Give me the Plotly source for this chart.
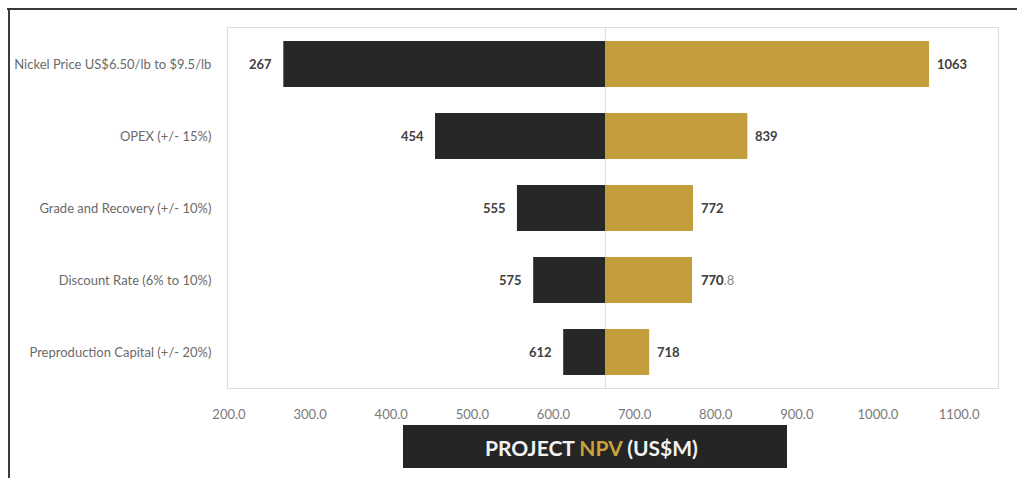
import plotly.graph_objects as go

# Tornado chart: sensitivity of project NPV (US$M) to key inputs
categories = [
    "Nickel Price US$6.50/lb to $9.5/lb",
    "OPEX (+/- 15%)",
    "Grade and Recovery (+/- 10%)",
    "Discount Rate (6% to 10%)",
    "Preproduction Capital (+/- 20%)",
]
low_npv = [267, 454, 555, 575, 612]
high_npv = [1063, 839, 772, 770.8, 718]
low_labels = ["267", "454", "555", "575", "612"]
high_labels = ["1063", "839", "772", "770.8", "718"]
base_npv = 664
tick_values = [200, 300, 400, 500, 600, 700, 800, 900, 1000, 1100]

DARK = "#272727"
GOLD = "#C39C3B"
LABEL_FONT = "Lato"

fig = go.Figure()

fig.add_trace(go.Bar(
    y=categories,
    x=[base_npv - v for v in low_npv],
    base=low_npv,
    orientation="h",
    marker=dict(color=DARK, line=dict(width=0)),
    hoverinfo="skip",
    name="Downside",
))
fig.add_trace(go.Bar(
    y=categories,
    x=[v - base_npv for v in high_npv],
    base=[base_npv] * len(high_npv),
    orientation="h",
    marker=dict(color=GOLD, line=dict(width=0)),
    hoverinfo="skip",
    name="Upside",
))

annotations = []
for cat, v, t in zip(categories, low_npv, low_labels):
    annotations.append(dict(
        x=v, y=cat, xref="x", yref="y", text=f"<b>{t}</b>",
        xanchor="right", xshift=-9, showarrow=False,
        font=dict(family=LABEL_FONT, size=13, color="#404040"),
    ))
for cat, v, t in zip(categories, high_npv, high_labels):
    if "." in t:
        # value label sits over an older rounded label
        annotations.append(dict(
            x=v, y=cat, xref="x", yref="y", text=t,
            xanchor="left", xshift=7, showarrow=False,
            font=dict(family=LABEL_FONT, size=13, color="#8a8a8a"),
        ))
        annotations.append(dict(
            x=v, y=cat, xref="x", yref="y", text=f"<b>{t.split('.')[0]}</b>",
            xanchor="left", xshift=7, showarrow=False,
            font=dict(family=LABEL_FONT, size=13, color="#404040"),
        ))
    else:
        annotations.append(dict(
            x=v, y=cat, xref="x", yref="y", text=f"<b>{t}</b>",
            xanchor="left", xshift=6, showarrow=False,
            font=dict(family=LABEL_FONT, size=13, color="#404040"),
        ))

# axis title in a dark banner below the chart
annotations.append(dict(
    x=(591 - 228) / 770, y=(388 - 447) / 360, xref="paper", yref="paper",
    text="<b>PROJECT <span style='color:#C9A23A'>NPV</span> (US$M)</b>",
    showarrow=False, xanchor="center", yanchor="middle",
    font=dict(family=LABEL_FONT, size=21, color="#F2F2F2"),
))

shapes = [
    # base case reference line
    dict(type="line", xref="x", yref="paper", x0=base_npv, x1=base_npv,
         y0=0, y1=1, line=dict(color="#DADADA", width=1), layer="below"),
    # title banner
    dict(type="rect", xref="paper", yref="paper",
         x0=(403 - 228) / 770, x1=(787 - 228) / 770,
         y0=(388 - 468) / 360, y1=(388 - 425) / 360,
         fillcolor="#252525", line=dict(width=0), layer="below"),
    # outer frame (top and left edges)
    dict(type="line", xref="paper", yref="paper",
         x0=(7 - 228) / 770, x1=(1017 - 228) / 770,
         y0=(388 - 9) / 360, y1=(388 - 9) / 360,
         line=dict(color="#3a3a3a", width=2)),
    dict(type="line", xref="paper", yref="paper",
         x0=(9 - 228) / 770, x1=(9 - 228) / 770,
         y0=(388 - 9) / 360, y1=(388 - 478) / 360,
         line=dict(color="#3a3a3a", width=2)),
]

fig.update_layout(
    width=1017, height=478,
    margin=dict(l=228, r=19, t=28, b=90),
    paper_bgcolor="white", plot_bgcolor="white",
    barmode="overlay", bargap=0.36,
    showlegend=False,
    annotations=annotations,
    shapes=shapes,
    xaxis=dict(
        range=[198.8, 1148],
        tickvals=tick_values, tickformat=".1f",
        showgrid=False, zeroline=False,
        showline=True, mirror=True, linecolor="#DCDCE6", linewidth=1,
        ticks="", ticklabelstandoff=14,
        tickfont=dict(family=LABEL_FONT, size=13, color="#7a7a7a"),
    ),
    yaxis=dict(
        categoryorder="array", categoryarray=categories,
        autorange="reversed",
        showgrid=False, zeroline=False,
        showline=True, mirror=True, linecolor="#DCDCE6", linewidth=1,
        ticks="", ticklabelstandoff=13,
        tickfont=dict(family=LABEL_FONT, size=13, color="#6a6a6a"),
    ),
)

fig.write_html("out.html")
